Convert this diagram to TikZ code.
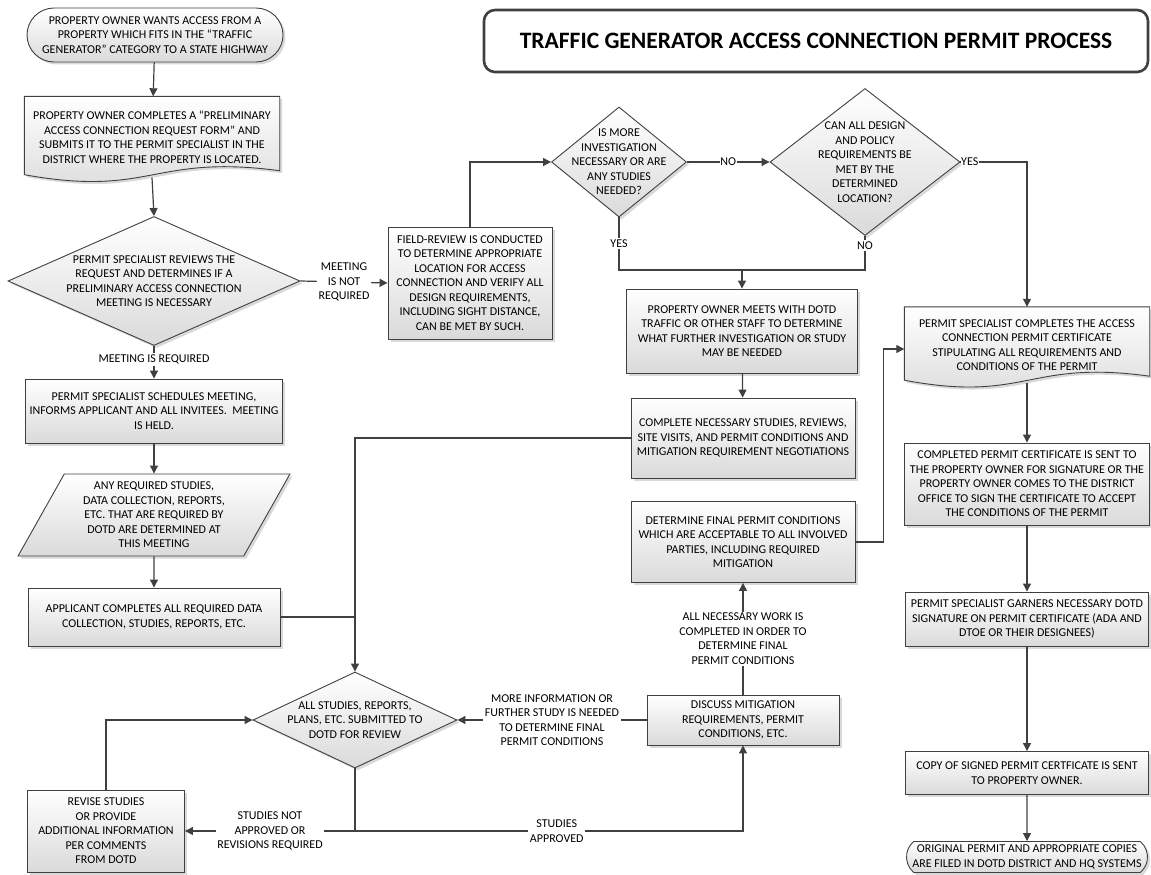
\documentclass[tikz,border=0pt]{standalone}
\usepackage{fontspec}
\setmainfont{Carlito}
\usetikzlibrary{shapes.geometric,shapes.misc,arrows.meta,shadows,backgrounds,calc}

\definecolor{linegray}{HTML}{404040}
\definecolor{boxgray}{HTML}{DADADA}

\tikzset{
  every node/.style={font=\fontsize{12}{14.5}\selectfont, align=center},
  shade/.style={draw=linegray, line width=0.9pt, top color=white, bottom color=boxgray,
    drop shadow={opacity=0.3, shadow xshift=2.5pt, shadow yshift=-2.5pt}},
  box/.style={rectangle, shade, inner sep=2pt},
  term/.style={rounded rectangle, shade, inner sep=2pt},
  decision/.style={diamond, shade, inner sep=0pt},
  io/.style={trapezium, trapezium left angle=61, trapezium right angle=119,
    trapezium stretches=true, shade, inner sep=0pt},
  docbox/.style={rectangle, inner sep=2pt},
  docfill/.style={shade},
  titlebox/.style={rectangle, rounded corners=11pt, draw=linegray, line width=2.6pt,
    fill=white, font=\fontsize{23.5}{26}\selectfont\bfseries},
  lbl/.style={fill=white, inner sep=1.5pt},
  line/.style={draw=linegray, line width=1.2pt, -{Triangle[length=8pt,width=8pt]}},
  plain/.style={draw=linegray, line width=1.2pt}
}

% wavy bottom outline for the document boxes
\newcommand{\docpath}[1]{%
  \begin{scope}[on background layer]
    \path[docfill] (#1.north west) -- (#1.north east) -- ([yshift=7pt]#1.south east)
      .. controls ([yshift=24pt]#1.south) and ([yshift=-20pt]#1.south) ..
      ([yshift=3pt]#1.south west) -- cycle;
  \end{scope}}

\begin{document}
\begin{tikzpicture}[x=1pt,y=-1pt]
  \useasboundingbox (0,0) rectangle (1151,875);

  \node[titlebox, minimum width=664pt, minimum height=62pt] (title) at (816,41)
    {TRAFFIC GENERATOR ACCESS CONNECTION PERMIT PROCESS};

  % left column
  \node[term, minimum width=260pt, minimum height=54pt] (start) at (155,35)
    {PROPERTY OWNER WANTS ACCESS FROM A\\ PROPERTY WHICH FITS IN THE “TRAFFIC\\ GENERATOR” CATEGORY TO A STATE HIGHWAY};
  \node[docbox, minimum width=255pt, minimum height=81pt] (form) at (152,137)
    {PROPERTY OWNER COMPLETES A “PRELIMINARY\\ ACCESS CONNECTION REQUEST FORM” AND\\ SUBMITS IT TO THE PERMIT SPECIALIST IN THE\\ DISTRICT WHERE THE PROPERTY IS LOCATED.};
  \docpath{form}
  \node[decision, minimum width=292pt, minimum height=129pt,
    label={center:{PERMIT SPECIALIST REVIEWS THE\\ REQUEST AND DETERMINES IF A\\ PRELIMINARY ACCESS CONNECTION\\ MEETING IS NECESSARY}}] (meet) at (154,281) {};
  \node[box, minimum width=257pt, minimum height=64pt] (sched) at (154,411)
    {PERMIT SPECIALIST SCHEDULES MEETING,\\ INFORMS APPLICANT AND ALL INVITEES.\ \ MEETING\\ IS HELD.};
  \node[io, minimum width=272pt, minimum height=82pt] (need) at (154,515)
    {ANY REQUIRED STUDIES,\\ DATA COLLECTION, REPORTS,\\ ETC. THAT ARE REQUIRED BY\\ DOTD ARE DETERMINED AT\\ THIS MEETING};
  \node[box, minimum width=252pt, minimum height=58pt] (appl) at (154,617)
    {APPLICANT COMPLETES ALL REQUIRED DATA\\ COLLECTION, STUDIES, REPORTS, ETC.};
  \node[decision, minimum width=204pt, minimum height=96pt,
    label={center:{ALL STUDIES, REPORTS,\\ PLANS, ETC. SUBMITTED TO\\ DOTD FOR REVIEW}}] (review) at (355,720) {};
  \node[box, minimum width=157pt, minimum height=82pt] (revise) at (106,831)
    {REVISE STUDIES\\ OR PROVIDE\\ ADDITIONAL INFORMATION\\ PER COMMENTS\\ FROM DOTD};

  % middle
  \node[box, minimum width=164pt, minimum height=112pt] (field) at (470,283)
    {FIELD-REVIEW IS CONDUCTED\\ TO DETERMINE APPROPRIATE\\ LOCATION FOR ACCESS\\ CONNECTION AND VERIFY ALL\\ DESIGN REQUIREMENTS,\\ INCLUDING SIGHT DISTANCE,\\ CAN BE MET BY SUCH.};
  \node[decision, minimum width=135pt, minimum height=110pt,
    label={center:{IS MORE\\ INVESTIGATION\\ NECESSARY OR ARE\\ ANY STUDIES\\ NEEDED?}}] (invest) at (619,162) {};
  \node[decision, minimum width=190pt, minimum height=147pt,
    label={center:{CAN ALL DESIGN\\ AND POLICY\\ REQUIREMENTS BE\\ MET BY THE\\ DETERMINED\\ LOCATION?}}] (policy) at (865,162) {};
  \node[box, minimum width=231pt, minimum height=84pt] (owner) at (742,331)
    {PROPERTY OWNER MEETS WITH DOTD\\ TRAFFIC OR OTHER STAFF TO DETERMINE\\ WHAT FURTHER INVESTIGATION OR STUDY\\ MAY BE NEEDED};
  \node[box, minimum width=224pt, minimum height=80pt] (studies) at (743,438)
    {COMPLETE NECESSARY STUDIES, REVIEWS,\\ SITE VISITS, AND PERMIT CONDITIONS AND\\ MITIGATION REQUIREMENT NEGOTIATIONS};
  \node[box, minimum width=224pt, minimum height=81pt] (final) at (743,542)
    {DETERMINE FINAL PERMIT CONDITIONS\\ WHICH ARE ACCEPTABLE TO ALL INVOLVED\\ PARTIES, INCLUDING REQUIRED\\ MITIGATION};
  \node[box, minimum width=192pt, minimum height=50pt] (discuss) at (743,720)
    {DISCUSS MITIGATION\\ REQUIREMENTS, PERMIT\\ CONDITIONS, ETC.};

  % right column
  \node[docbox, minimum width=245pt, minimum height=76pt] (cert) at (1027,345)
    {PERMIT SPECIALIST COMPLETES THE ACCESS\\ CONNECTION PERMIT CERTIFICATE\\ STIPULATING ALL REQUIREMENTS AND\\ CONDITIONS OF THE PERMIT};
  \docpath{cert}
  \node[box, minimum width=245pt, minimum height=82pt] (sign) at (1027,484)
    {COMPLETED PERMIT CERTIFICATE IS SENT TO\\ THE PROPERTY OWNER FOR SIGNATURE OR THE\\ PROPERTY OWNER COMES TO THE DISTRICT\\ OFFICE TO SIGN THE CERTIFICATE TO ACCEPT\\ THE CONDITIONS OF THE PERMIT};
  \node[box, minimum width=243pt, minimum height=54pt] (garner) at (1027,619)
    {PERMIT SPECIALIST GARNERS NECESSARY DOTD\\ SIGNATURE ON PERMIT CERTIFICATE (ADA AND\\ DTOE OR THEIR DESIGNEES)};
  \node[box, minimum width=243pt, minimum height=43pt] (copy) at (1027,773)
    {COPY OF SIGNED PERMIT CERTFICATE IS SENT\\ TO PROPERTY OWNER.};
  \node[term, rounded rectangle arc length=100, inner ysep=1pt, minimum width=245pt, minimum height=31pt] (filed) at (1027,857)
    {ORIGINAL PERMIT AND APPROPRIATE COPIES\\ ARE FILED IN DOTD DISTRICT AND HQ SYSTEMS};

  % connectors, left column
  \draw[line] (start) -- (form);
  \draw[line] (form.south) -- (meet.north);
  \draw[line] (meet.east) -- (field.west) node[midway,lbl] {MEETING\\ IS NOT\\ REQUIRED};
  \draw[line] (meet.south) -- (sched.north) node[pos=0.42,lbl] {MEETING IS REQUIRED};
  \draw[line] (sched) -- (need);
  \draw[line] (need) -- (appl);
  \draw[line] (studies.west) -| (review.north);
  \draw[plain] (appl.east) -- (appl.east -| review.north);
  \coordinate (split) at (review.south |- revise.east);
  \draw[plain] (review.south) -- (split);
  \draw[line] (split) -- (revise.east) node[midway,lbl] {STUDIES NOT\\ APPROVED OR\\ REVISIONS REQUIRED};
  \draw[line] (split) -| (discuss.south) node[pos=0.26,lbl] {STUDIES\\ APPROVED};
  \draw[line] (revise.north) |- (review.west);

  % connectors, middle
  \draw[line] (field.north) |- (invest.west);
  \draw[line] (invest.east) -- (policy.west) node[midway,lbl,inner sep=0.5pt] {NO};
  \coordinate (merge) at (owner.north |- 0,270);
  \draw[plain] (invest.south) |- (merge) node[pos=0.25,lbl] {YES};
  \draw[plain] (merge) -| (policy.south) node[pos=0.86,lbl] {NO};
  \draw[line] (merge) -- (owner.north);
  \draw[line] (owner) -- (studies);
  \draw[line] (discuss) -- (final) node[midway,lbl] {ALL NECESSARY WORK IS\\ COMPLETED IN ORDER TO\\ DETERMINE FINAL\\ PERMIT CONDITIONS};
  \draw[line] (discuss.west) -- (review.east) node[midway,lbl] {MORE INFORMATION OR\\ FURTHER STUDY IS NEEDED\\ TO DETERMINE FINAL\\ PERMIT CONDITIONS};
  \draw[line] (final.east) -- ++(28,0) |- ([yshift=-4pt]cert.west);

  % connectors, right column
  \draw[line] (policy.east) -| (cert.north) node[pos=0.07,lbl,inner sep=0.5pt] {YES};
  \draw[line] (cert.south) -- (sign.north);
  \draw[line] (sign) -- (garner);
  \draw[line] (garner) -- (copy);
  \draw[line] (copy) -- (filed);
\end{tikzpicture}
\end{document}
